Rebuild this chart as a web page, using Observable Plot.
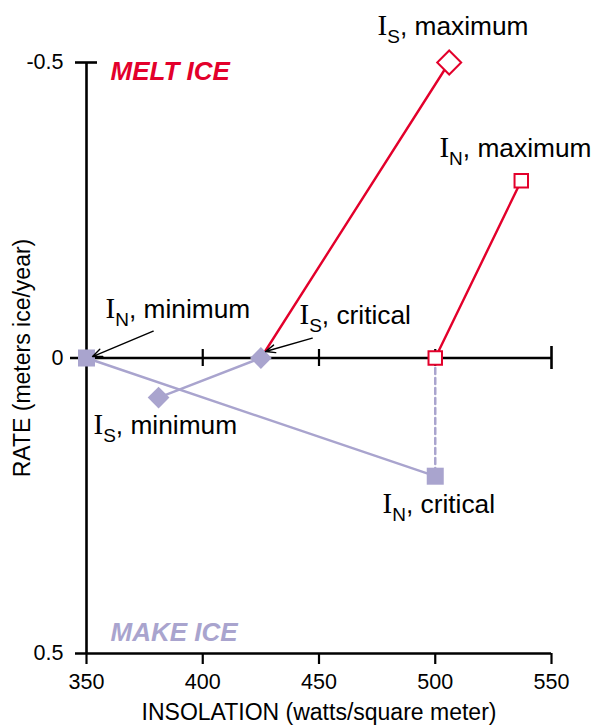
<!DOCTYPE html>
<html><head><meta charset="utf-8">
<script src="https://cdn.jsdelivr.net/npm/d3@7"></script>
<script src="https://cdn.jsdelivr.net/npm/@observablehq/plot@0.6"></script>
<style>body{margin:0;background:#fff;}</style>
</head><body><div id="chart"></div>
<script>
const RED = "#e3002b", PURPLE = "#a9a4ce";
const xTicks = [350, 400, 450, 500, 550];
const yTicks = [-0.5, 0, 0.5];
const zeroTicks = [400, 450, 500];
const endTick = [550];
// rate lines
const meltS = [{x: 425, y: 0}, {x: 506, y: -0.5}];
const meltN = [{x: 500, y: 0}, {x: 537, y: -0.3}];
const makeN = [{x: 350, y: 0}, {x: 500, y: 0.2}];
const makeS = [{x: 381, y: 0.067}, {x: 425, y: 0}];
const dropN = [{x: 500, y: 0}, {x: 500, y: 0.2}];
// markers
const openDiamonds = [{x: 506, y: -0.5}];
const openSquares = [{x: 537, y: -0.3}, {x: 500, y: 0}];
const filledDiamonds = [{x: 381, y: 0.067}, {x: 425, y: 0}];
const filledSquares = [{x: 350, y: 0}, {x: 500, y: 0.2}];
// annotations
const labelSubs = ["S", "N", "N", "S", "S", "N"];
const labelWords = ["maximum", "maximum", "minimum", "critical", "minimum", "critical"];
const labelX = [475.2, 501.8, 358.2, 441.6, 353, 477.3];
const labelY = [-0.547, -0.340, -0.067, -0.058, 0.128, 0.262];
const labels = labelSubs.map((s, i) => ({sub: s, word: labelWords[i], x: labelX[i], y: labelY[i]}));
const arrows = [
  {x1: 378.7, y1: -0.0454, x2: 352.6, y2: -0.0025},
  {x1: 447.1, y1: -0.0336, x2: 427.0, y2: -0.011}
];
const xTitle = "INSOLATION (watts/square meter)";
const yTitle = "RATE (meters ice/year)";

const chart = Plot.plot({
  width: 593, height: 726,
  marginLeft: 86, marginRight: 42, marginTop: 62, marginBottom: 73,
  x: {domain: [350, 550]},
  y: {domain: [-0.5, 0.5], reverse: true},
  style: {fontFamily: "'Liberation Sans', Arial, sans-serif", background: "white", color: "black"},
  marks: [
    Plot.axisX({ticks: xTicks, tickSize: 0, tickPadding: 20, fontSize: 21.5, label: null, tickFormat: d => String(d)}),
    Plot.axisY({ticks: yTicks, tickSize: 0, tickPadding: 23, fontSize: 21.5, label: null, tickFormat: d => String(d)}),
    Plot.text([xTitle], {frameAnchor: "bottom", dy: 59, fontSize: 23, textAnchor: "middle", lineAnchor: "middle"}),
    Plot.text([yTitle], {frameAnchor: "left", dx: -64, rotate: -90, fontSize: 23, textAnchor: "middle", lineAnchor: "middle"}),
    // axes frame
    Plot.ruleX([350], {y1: -0.5, y2: 0.5, stroke: "black", strokeWidth: 2.6}),
    Plot.ruleY([0.5], {x1: 350, x2: 550, insetLeft: -11, stroke: "black", strokeWidth: 2.6}),
    Plot.ruleY([-0.5], {x1: 350, x2: 350, insetLeft: -11, insetRight: -11, stroke: "black", strokeWidth: 2.6}),
    Plot.ruleY([0], {x1: 350, x2: 550, insetLeft: -16, stroke: "black", strokeWidth: 2.6}),
    Plot.ruleX(xTicks, {y1: 0.5, y2: 0.5, insetBottom: -11, stroke: "black", strokeWidth: 2.2}),
    Plot.ruleX(zeroTicks, {y1: 0, y2: 0, insetTop: -8.5, insetBottom: -8.5, stroke: "black", strokeWidth: 2.2}),
    Plot.ruleX(endTick, {y1: 0, y2: 0, insetTop: -11.5, insetBottom: -11.5, stroke: "black", strokeWidth: 2.6}),
    // lines
    Plot.line(dropN, {x: "x", y: "y", stroke: PURPLE, strokeWidth: 2.5, strokeDasharray: "6,4"}),
    Plot.line(makeN, {x: "x", y: "y", stroke: PURPLE, strokeWidth: 2.4}),
    Plot.line(makeS, {x: "x", y: "y", stroke: PURPLE, strokeWidth: 2.4}),
    Plot.line(meltS, {x: "x", y: "y", stroke: RED, strokeWidth: 2.4}),
    Plot.line(meltN, {x: "x", y: "y", stroke: RED, strokeWidth: 2.4}),
    // markers
    Plot.dot(filledSquares, {x: "x", y: "y", symbol: "square", r: 9.6, fill: PURPLE}),
    Plot.dot(filledDiamonds, {x: "x", y: "y", symbol: "diamond2", r: 9.8, fill: PURPLE}),
    Plot.dot(openSquares, {x: "x", y: "y", symbol: "square", r: 7.6, fill: "white", stroke: RED, strokeWidth: 2}),
    Plot.dot(openDiamonds, {x: "x", y: "y", symbol: "diamond2", r: 10.8, fill: "white", stroke: RED, strokeWidth: 2}),
    // arrows
    Plot.arrow(arrows, {x1: "x1", y1: "y1", x2: "x2", y2: "y2", stroke: "black", strokeWidth: 1.4, headLength: 11, headAngle: 45}),
    // region labels
    Plot.text(["MELT ICE"], {frameAnchor: "top-left", dx: 24, dy: 9, textAnchor: "start", lineAnchor: "middle", fill: RED, fontSize: 26, fontWeight: "bold", fontStyle: "italic"}),
    Plot.text(["MAKE ICE"], {frameAnchor: "bottom-left", dx: 24, dy: -21, textAnchor: "start", lineAnchor: "middle", fill: PURPLE, fontSize: 26, fontWeight: "bold", fontStyle: "italic"}),
    // point annotations
    Plot.text(labels, {x: "x", y: "y", text: d => `I${d.sub}, ${d.word}`, textAnchor: "start", lineAnchor: "bottom", fontSize: 26.3, fill: "black"})
  ]
});

const pattern = /^I([SN]), (.+)$/;
d3.select(chart).selectAll("text").each(function() {
  const m = pattern.exec(this.textContent);
  if (!m) return;
  const t = d3.select(this);
  t.text(null);
  t.append("tspan").attr("font-family", "'Liberation Serif','Times New Roman',serif").attr("font-size", 29).text("I");
  t.append("tspan").attr("font-size", 19).attr("dy", 8).text(m[1]);
  t.append("tspan").attr("dy", -8).text(", " + m[2]);
});

document.getElementById("chart").appendChild(chart);
</script>
</body></html>
